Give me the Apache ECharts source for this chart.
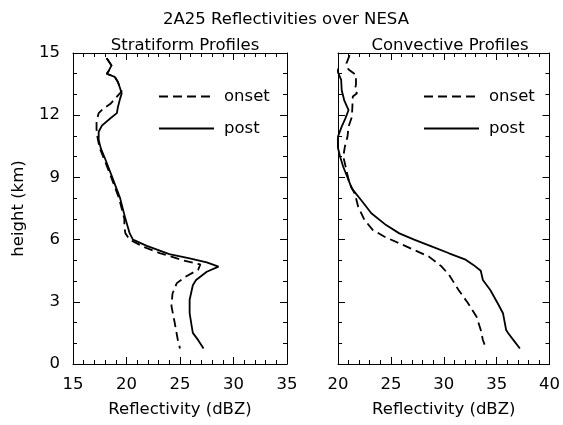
<!DOCTYPE html>
<html>
<head>
<meta charset="utf-8">
<script src="https://cdn.jsdelivr.net/npm/echarts@6/dist/echarts.min.js"></script>
<style>
  html, body { margin: 0; padding: 0; background: #fff; }
  #chart { width: 563px; height: 425px; }
</style>
</head>
<body>
<div id="chart"></div>
<script>
// Stratiform profiles: height (km) and reflectivity (dBZ)
var stratOnsetHeight = [14.75, 14.4, 14.1, 14.0, 13.85, 13.6, 13.3, 13.15, 12.55, 12.3, 12.1, 11.7, 11.3, 10.9, 10.4, 9.9, 9.1, 8.0, 7.0, 6.6, 6.3, 6.0, 5.65, 5.35, 5.0, 4.8, 4.55, 4.2, 3.9, 3.4, 2.8, 2.0, 1.15, 0.75];
var stratOnsetDbz    = [18.15, 18.6, 18.3, 18.15, 18.9, 19.2, 19.4, 19.55, 18.5, 17.8, 17.4, 17.2, 17.2, 17.3, 17.5, 17.9, 18.5, 19.3, 19.8, 19.8, 19.9, 20.3, 21.6, 23.1, 25.3, 26.9, 26.7, 25.5, 24.7, 24.3, 24.2, 24.5, 24.8, 25.0];
var stratPostHeight  = [14.75, 14.4, 14.1, 14.0, 13.85, 13.6, 13.3, 13.05, 12.8, 12.4, 12.1, 11.85, 11.5, 11.2, 10.8, 10.4, 9.9, 9.1, 8.0, 7.0, 6.3, 6.0, 5.7, 5.3, 5.1, 4.9, 4.7, 4.45, 4.05, 3.8, 3.1, 2.45, 1.8, 1.5, 1.15, 0.75];
var stratPostDbz     = [18.15, 18.6, 18.3, 18.15, 18.9, 19.2, 19.4, 19.55, 19.4, 19.2, 19.1, 18.5, 17.7, 17.4, 17.4, 17.6, 18.0, 18.6, 19.4, 19.9, 20.3, 20.6, 21.9, 24.0, 25.9, 27.5, 28.6, 27.5, 26.5, 26.2, 25.9, 25.9, 26.1, 26.2, 26.7, 27.2];

// Convective profiles: height (km) and reflectivity (dBZ)
var convOnsetHeight = [14.9, 14.5, 14.2, 13.94, 13.5, 13.2, 13.06, 12.9, 12.3, 11.9, 11.45, 10.97, 10.48, 10.0, 9.68, 9.1, 8.7, 8.2, 7.6, 6.95, 6.46, 6.14, 5.82, 5.5, 5.18, 4.7, 4.3, 3.57, 2.93, 2.28, 1.64, 1.16, 0.75];
var convOnsetDbz    = [21.1, 20.8, 21.0, 21.7, 21.7, 21.6, 21.8, 21.4, 21.35, 21.3, 21.0, 20.9, 20.65, 20.5, 20.65, 20.9, 21.1, 21.6, 21.9, 22.5, 23.3, 24.4, 25.8, 27.2, 28.6, 29.8, 30.5, 31.4, 32.3, 33.1, 33.5, 33.7, 34.0];
var convPostHeight  = [14.75, 14.1, 13.7, 13.2, 12.7, 12.25, 11.85, 11.45, 10.97, 10.48, 10.0, 9.5, 9.0, 8.47, 7.9, 7.27, 6.7, 6.3, 6.0, 5.66, 5.34, 5.05, 4.78, 4.5, 4.05, 3.57, 2.93, 2.45, 1.64, 1.48, 1.08, 0.75];
var convPostDbz     = [19.47, 19.97, 20.3, 20.35, 20.6, 21.0, 20.7, 20.35, 20.0, 19.97, 20.2, 20.5, 20.9, 21.3, 22.2, 23.15, 24.55, 25.8, 27.2, 28.9, 30.5, 32.0, 32.8, 33.5, 33.7, 34.4, 35.1, 35.6, 35.9, 36.1, 36.7, 37.2];

// Axis ranges and tick steps
var stratXRange = [15, 35];
var convXRange  = [20, 40];
var heightRange = [0, 15];
var xStep = 5;
var yStep = 3;

var FONT = 'DejaVu Sans';
var FS = 16.5;
var INK = '#000';

function pairs(dbz, height) {
  return dbz.map(function (v, i) { return [v, height[i]]; });
}

function xAxisDef(grid, range, pos, withLabels) {
  return {
    type: 'value', gridIndex: grid, position: pos,
    min: range[0], max: range[1], interval: xStep,
    name: withLabels ? 'Reflectivity (dBZ)' : '',
    nameLocation: 'middle', nameGap: 37,
    nameTextStyle: { fontFamily: FONT, fontSize: FS, color: INK },
    axisLine: { show: true, onZero: false, lineStyle: { color: INK, width: 1 } },
    axisTick: { show: true, inside: true, length: 7, lineStyle: { color: INK } },
    minorTick: { show: true, splitNumber: 5, length: 4, lineStyle: { color: INK } },
    axisLabel: { show: withLabels, fontFamily: FONT, fontSize: FS, color: INK, margin: 12 },
    splitLine: { show: false }
  };
}

function yAxisDef(grid, pos, withLabels) {
  return {
    type: 'value', gridIndex: grid, position: pos,
    min: heightRange[0], max: heightRange[1], interval: yStep,
    name: withLabels ? 'height (km)' : '',
    nameLocation: 'middle', nameGap: 46,
    nameTextStyle: { fontFamily: FONT, fontSize: FS, color: INK },
    axisLine: { show: true, onZero: false, lineStyle: { color: INK, width: 1 } },
    axisTick: { show: true, inside: true, length: 7, lineStyle: { color: INK } },
    minorTick: { show: true, splitNumber: 3, length: 4, lineStyle: { color: INK } },
    axisLabel: { show: withLabels, fontFamily: FONT, fontSize: FS, color: INK, margin: 13 },
    splitLine: { show: false }
  };
}

function profile(name, dbz, height, axis, dashed) {
  return {
    type: 'line', name: name,
    xAxisIndex: axis, yAxisIndex: axis,
    data: pairs(dbz, height),
    symbol: 'none', clip: false, silent: true,
    lineStyle: { color: INK, width: 1.8, type: dashed ? [9, 5] : 'solid' },
    itemStyle: { color: INK }
  };
}

function legendDef(left) {
  return {
    data: ['onset', 'post'],
    orient: 'vertical', left: left, top: 88, padding: 0,
    itemWidth: 55, itemHeight: 14, itemGap: 15,
    itemStyle: { opacity: 0 },
    textStyle: { fontFamily: FONT, fontSize: FS, color: INK, padding: [0, 0, 0, 5] }
  };
}

var chart = echarts.init(document.getElementById('chart'), null, { renderer: 'canvas' });
chart.setOption({
  backgroundColor: '#fff',
  animation: false,
  title: [
    { text: '2A25 Reflectivities over NESA', left: 281, top: 6, textAlign: 'center',
      textStyle: { fontFamily: FONT, fontSize: FS, fontWeight: 'normal', color: INK } },
    { text: 'Stratiform Profiles', left: 180, top: 32, textAlign: 'center',
      textStyle: { fontFamily: FONT, fontSize: FS, fontWeight: 'normal', color: INK } },
    { text: 'Convective Profiles', left: 445, top: 32, textAlign: 'center',
      textStyle: { fontFamily: FONT, fontSize: FS, fontWeight: 'normal', color: INK } }
  ],
  legend: [legendDef(158), legendDef(423)],
  grid: [
    { left: 73, top: 53, width: 214, height: 311 },
    { left: 338, top: 53, width: 214, height: 311 }
  ],
  xAxis: [
    xAxisDef(0, stratXRange, 'bottom', true),
    xAxisDef(1, convXRange, 'bottom', true),
    xAxisDef(0, stratXRange, 'top', false),
    xAxisDef(1, convXRange, 'top', false)
  ],
  yAxis: [
    yAxisDef(0, 'left', true),
    yAxisDef(1, 'left', false),
    yAxisDef(0, 'right', false),
    yAxisDef(1, 'right', false)
  ],
  series: [
    profile('onset', stratOnsetDbz, stratOnsetHeight, 0, true),
    profile('post', stratPostDbz, stratPostHeight, 0, false),
    profile('onset', convOnsetDbz, convOnsetHeight, 1, true),
    profile('post', convPostDbz, convPostHeight, 1, false)
  ]
});
</script>
</body>
</html>
